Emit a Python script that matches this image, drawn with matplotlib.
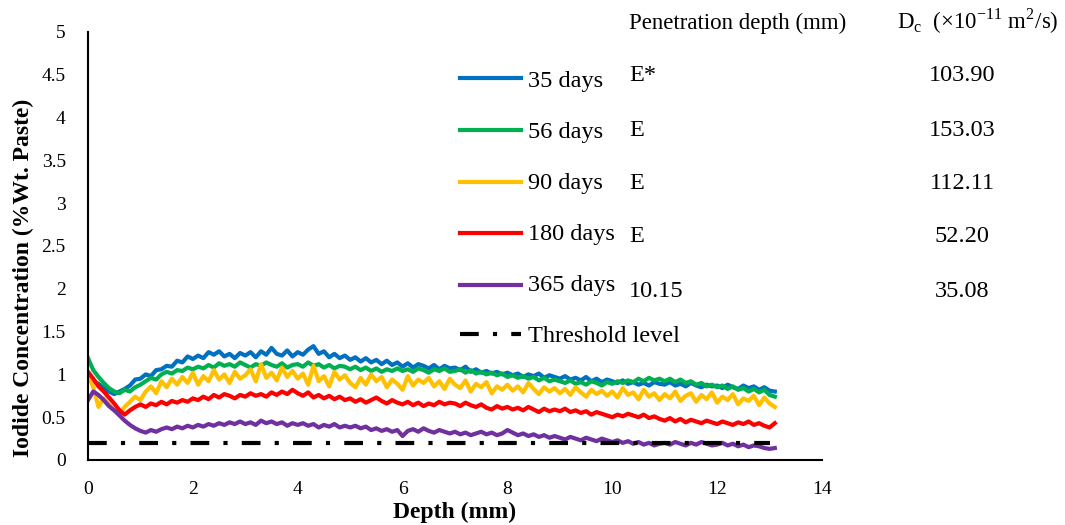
import numpy as np
import matplotlib
matplotlib.use("Agg")
import matplotlib.pyplot as plt

plt.rcParams['font.family'] = ['Liberation Serif', 'DejaVu Serif']
plt.rcParams['mathtext.fontset'] = 'custom'
plt.rcParams['mathtext.rm'] = 'Liberation Serif'

# depth in mm, every 0.1 mm
depth = np.round(np.arange(0, 132) * 0.1, 1)

days35 = [0.96, 0.92, 0.89, 0.84, 0.80, 0.77, 0.80, 0.83, 0.87, 0.94,
          0.95, 1.00, 0.98, 1.05, 1.06, 1.10, 1.09, 1.16, 1.14, 1.21,
          1.18, 1.22, 1.19, 1.26, 1.23, 1.27, 1.21, 1.24, 1.19, 1.25,
          1.22, 1.26, 1.20, 1.27, 1.23, 1.31, 1.24, 1.22, 1.28, 1.21,
          1.26, 1.23, 1.29, 1.33, 1.24, 1.27, 1.20, 1.24, 1.19, 1.22,
          1.17, 1.20, 1.15, 1.19, 1.14, 1.17, 1.12, 1.16, 1.11, 1.14,
          1.09, 1.13, 1.08, 1.12, 1.10, 1.07, 1.11, 1.06, 1.10, 1.07,
          1.08, 1.05, 1.09, 1.03, 1.06, 1.02, 1.04, 1.01, 1.03, 1.00,
          1.02, 0.99, 1.01, 0.97, 1.00, 0.98, 1.01, 0.96, 0.99, 0.97,
          0.95, 0.98, 0.94, 0.96, 0.93, 0.97, 0.92, 0.95, 0.91, 0.94,
          0.92, 0.90, 0.93, 0.89, 0.91, 0.88, 0.90, 0.87, 0.91, 0.89,
          0.88, 0.91, 0.87, 0.89, 0.86, 0.90, 0.87, 0.85, 0.88, 0.86,
          0.87, 0.84, 0.88, 0.85, 0.83, 0.87, 0.84, 0.86, 0.82, 0.85,
          0.81, 0.80]

days56 = [1.19, 1.05, 0.97, 0.90, 0.84, 0.80, 0.78, 0.82, 0.80, 0.85,
          0.88, 0.92, 0.96, 0.94, 1.00, 1.03, 1.01, 1.05, 1.04, 1.08,
          1.06, 1.09, 1.07, 1.11, 1.08, 1.13, 1.10, 1.12, 1.09, 1.14,
          1.11, 1.08, 1.12, 1.10, 1.14, 1.11, 1.09, 1.13, 1.08, 1.11,
          1.12, 1.09, 1.14, 1.10, 1.12, 1.08, 1.11, 1.07, 1.10, 1.09,
          1.06, 1.09, 1.05, 1.08, 1.04, 1.07, 1.03, 1.06, 1.04, 1.07,
          1.04, 1.06, 1.03, 1.07, 1.05, 1.02, 1.06, 1.04, 1.07, 1.03,
          1.04, 1.06, 1.02, 1.05, 1.01, 1.03, 1.00, 1.02, 0.99, 1.01,
          0.97, 0.99, 0.96, 0.98, 0.95, 0.97, 0.93, 0.96, 0.92, 0.94,
          0.92, 0.90, 0.93, 0.89, 0.91, 0.88, 0.92, 0.90, 0.87, 0.91,
          0.89, 0.92, 0.90, 0.93, 0.91, 0.95, 0.92, 0.96, 0.93, 0.95,
          0.92, 0.95, 0.91, 0.94, 0.90, 0.92, 0.88, 0.90, 0.86, 0.88,
          0.85, 0.87, 0.83, 0.86, 0.82, 0.84, 0.80, 0.83, 0.79, 0.82,
          0.76, 0.74]

days90 = [1.00, 0.85, 0.62, 0.72, 0.65, 0.58, 0.55, 0.62, 0.68, 0.74,
          0.70, 0.80, 0.86, 0.78, 0.92, 0.85, 0.95, 0.88, 0.97, 0.90,
          1.02, 0.88, 0.98, 0.92, 1.05, 0.94, 1.00, 0.90, 1.03, 0.95,
          0.99, 1.06, 0.92, 1.12, 0.96, 1.02, 0.93, 1.08, 0.97, 1.04,
          0.95, 1.01, 0.88, 1.10, 0.92, 0.98, 0.86, 1.03, 0.94, 0.99,
          0.90, 0.85, 0.96, 0.88, 1.00, 0.92, 0.97, 0.85, 0.94, 0.89,
          0.82, 0.98, 0.87, 0.94, 0.90, 0.96, 0.86, 0.92, 0.83, 0.95,
          0.88, 0.84, 0.93, 0.80, 0.89, 0.85, 0.91, 0.78, 0.86, 0.82,
          0.88, 0.81, 0.86, 0.79, 0.90, 0.83, 0.77, 0.85, 0.80, 0.84,
          0.78, 0.83, 0.76, 0.85, 0.79, 0.74, 0.82, 0.77, 0.81, 0.75,
          0.80, 0.73, 0.84, 0.76, 0.79, 0.71, 0.82, 0.74, 0.78, 0.70,
          0.77, 0.72, 0.80, 0.69, 0.75, 0.78, 0.68, 0.76, 0.71, 0.79,
          0.67, 0.74, 0.70, 0.77, 0.65, 0.72, 0.69, 0.75, 0.64, 0.73,
          0.66, 0.62]

days180 = [1.03, 0.95, 0.86, 0.80, 0.73, 0.66, 0.58, 0.53, 0.58, 0.62,
           0.65, 0.62, 0.66, 0.64, 0.68, 0.65, 0.69, 0.67, 0.70, 0.68,
           0.72, 0.70, 0.74, 0.71, 0.76, 0.73, 0.77, 0.75, 0.72, 0.76,
           0.74, 0.78, 0.75, 0.77, 0.74, 0.79, 0.76, 0.80, 0.77, 0.82,
           0.78, 0.75, 0.79, 0.73, 0.76, 0.72, 0.75, 0.71, 0.74, 0.70,
           0.72, 0.68, 0.71, 0.67, 0.70, 0.73, 0.69, 0.66, 0.70, 0.67,
           0.65, 0.68, 0.64, 0.67, 0.63, 0.66, 0.64, 0.68, 0.65, 0.67,
           0.66, 0.63, 0.67, 0.64, 0.62, 0.65, 0.61, 0.59, 0.63, 0.60,
           0.62, 0.59, 0.61, 0.58, 0.62, 0.59, 0.56, 0.60, 0.57, 0.59,
           0.57, 0.60, 0.56, 0.58, 0.55, 0.57, 0.53, 0.56, 0.54, 0.52,
           0.50, 0.53, 0.51, 0.54, 0.52, 0.50, 0.53, 0.49, 0.51, 0.48,
           0.46, 0.49, 0.45, 0.48, 0.44, 0.47, 0.45, 0.43, 0.46, 0.44,
           0.42, 0.45, 0.43, 0.41, 0.44, 0.42, 0.45, 0.41, 0.43, 0.40,
           0.38, 0.43]

days365 = [0.70, 0.80, 0.76, 0.70, 0.63, 0.58, 0.52, 0.46, 0.41, 0.37,
           0.34, 0.32, 0.35, 0.33, 0.36, 0.38, 0.36, 0.39, 0.37, 0.40,
           0.38, 0.41, 0.39, 0.42, 0.40, 0.43, 0.41, 0.44, 0.42, 0.45,
           0.42, 0.44, 0.41, 0.46, 0.43, 0.45, 0.42, 0.44, 0.40, 0.43,
           0.41, 0.43, 0.40, 0.42, 0.38, 0.41, 0.39, 0.42, 0.38, 0.40,
           0.38, 0.40, 0.37, 0.39, 0.35, 0.37, 0.34, 0.36, 0.33, 0.35,
           0.28, 0.34, 0.36, 0.33, 0.37, 0.34, 0.32, 0.35, 0.33, 0.31,
           0.33, 0.30, 0.32, 0.29, 0.31, 0.33, 0.30, 0.32, 0.29, 0.31,
           0.35, 0.32, 0.29, 0.31, 0.28, 0.30, 0.27, 0.29, 0.26, 0.28,
           0.26, 0.24, 0.27, 0.25, 0.23, 0.26, 0.24, 0.22, 0.25, 0.23,
           0.21, 0.23, 0.20, 0.22, 0.19, 0.21, 0.18, 0.20, 0.17, 0.19,
           0.20, 0.18, 0.21, 0.19, 0.17, 0.20, 0.18, 0.21, 0.19, 0.17,
           0.18, 0.20, 0.17, 0.19, 0.16, 0.18, 0.15, 0.17, 0.16, 0.14,
           0.13, 0.14]

threshold_x = [0, 13.0]
threshold_y = [0.2, 0.2]

labels = ["35 days", "56 days", "90 days", "180 days", "365 days"]
colors = ["#0070C0", "#00B050", "#FFC000", "#FF0000", "#7030A0"]
pen_depth = ["E*", "E", "E", "E", "10.15"]
dc_values = ["103.90", "153.03", "112.11", "52.20", "35.08"]

W, H = 1065, 525
fig = plt.figure(figsize=(W / 100, H / 100), dpi=100)
ax = fig.add_axes([88 / W, 1 - 460 / H, (822 - 88) / W, (460 - 32) / H])

series = [days35, days56, days90, days180, days365]
for s, c in zip(series, colors):
    ax.plot(depth, s, color=c, lw=3, solid_joinstyle='round')
ax.plot(threshold_x, threshold_y, color='black', lw=3, dashes=(4.5, 3.4, 1, 3.4))

ax.set_xlim(0, 14)
ax.set_ylim(0, 5)
ax.set_xticks(np.arange(0, 15, 2))
ax.set_yticks(np.arange(0, 5.01, 0.5))
ax.set_yticklabels(["0", "0.5", "1", "1.5", "2", "2.5", "3", "3.5", "4", "4.5", "5"])
ax.tick_params(length=0, labelsize=14)
ax.tick_params(axis='x', pad=15)
ax.tick_params(axis='y', pad=16)
for side in ['top', 'right']:
    ax.spines[side].set_visible(False)
for side in ['left', 'bottom']:
    ax.spines[side].set_linewidth(1.5)

ax.set_xlabel("Depth (mm)", fontsize=17, fontweight='bold', labelpad=3)
ax.set_ylabel("Iodide Concentration (%Wt. Paste)", fontsize=17, fontweight='bold')
ax.yaxis.set_label_coords(-0.073, 0.425)

# legend + table drawn as text
def fx(px):
    return px / W

def fy(py):
    return 1 - py / H

fig.text(fx(629), fy(29), "Penetration depth (mm)", fontsize=16.5, va='baseline')
fig.text(fx(897), fy(29), r"D$_\mathregular{c}$  (×10$^\mathregular{-11}$ m$^\mathregular{2}$/s)",
         fontsize=16.5, va='baseline')

line_y = [78, 130, 182, 233, 285]
text_base = [87, 138, 189, 240, 291]
col_base = [81, 136, 189, 242, 297]
for i in range(5):
    fig.add_artist(plt.Line2D([fx(460), fx(521)], [fy(line_y[i])] * 2,
                              color=colors[i], lw=3))
    fig.text(fx(528), fy(text_base[i]), labels[i], fontsize=17.5, va='baseline')
    fig.text(fx(629), fy(col_base[i]), pen_depth[i], fontsize=17.5, va='baseline')
    fig.text(fx(962), fy(col_base[i]), dc_values[i], fontsize=17.5, va='baseline', ha='center')

fig.add_artist(plt.Line2D([fx(460), fx(521)], [fy(334)] * 2, color='black', lw=3,
                          dashes=(4.5, 3.4, 1, 3.4)))
fig.text(fx(528), fy(342), "Threshold level", fontsize=17.5, va='baseline')

fig.savefig("out.png", dpi=100)
